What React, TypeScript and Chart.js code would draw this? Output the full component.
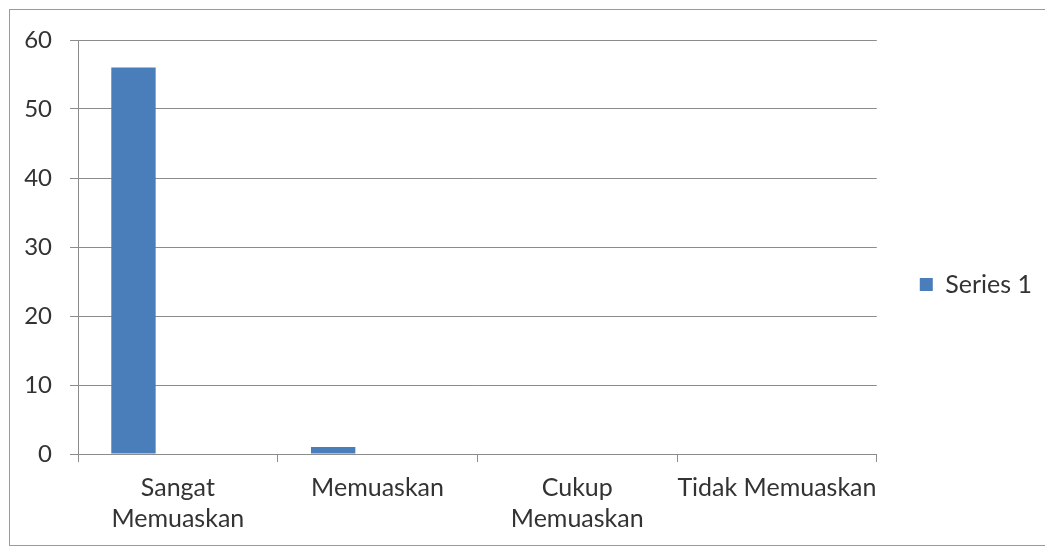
import React, { useEffect, useRef } from "react";
import { Chart, registerables } from "chart.js";

Chart.register(...registerables);

// Survey responses per satisfaction level
const categories: (string | string[])[] = [
  ["Sangat", "Memuaskan"],
  "Memuaskan",
  ["Cukup", "Memuaskan"],
  "Tidak Memuaskan",
];
const series1: number[] = [56, 1, 0, 0];
// Empty companion series keep the default three-bar cluster layout
const series2: (number | null)[] = [null, null, null, null];
const series3: (number | null)[] = [null, null, null, null];
const yTicks: number[] = [0, 10, 20, 30, 40, 50, 60];

const FONT = "Lato";
const TEXT = "#333333";
const GRID = "#8c8c8c";
const BAR = "#4A7EBB";

export default function App() {
  const ref = useRef<HTMLCanvasElement | null>(null);

  useEffect(() => {
    if (!ref.current) return;
    const chart = new Chart(ref.current, {
      type: "bar",
      data: {
        labels: categories,
        datasets: [
          { label: "Series 1", data: series1, backgroundColor: BAR },
          { label: "Series 2", data: series2, backgroundColor: "#C0504D" },
          { label: "Series 3", data: series3, backgroundColor: "#9BBB59" },
        ],
      },
      options: {
        responsive: false,
        animation: false,
        devicePixelRatio: 1,
        layout: { padding: { top: 40, left: 0, right: 3, bottom: 20 } },
        datasets: {
          bar: { categoryPercentage: 3 / 4.5, barPercentage: 1 },
        },
        plugins: {
          tooltip: { enabled: false },
          legend: {
            position: "right",
            align: "center",
            labels: {
              filter: (item) => item.datasetIndex === 0,
              boxWidth: 13,
              boxHeight: 13,
              padding: 43,
              color: TEXT,
              font: { family: FONT, size: 25 },
            },
          },
        },
        scales: {
          x: {
            offset: true,
            afterFit: (scale: any) => {
              scale.height = 75;
            },
            grid: {
              offset: true,
              drawOnChartArea: false,
              drawTicks: true,
              tickLength: 8,
              color: GRID,
            },
            border: { display: true, color: GRID, width: 1 },
            ticks: {
              color: TEXT,
              autoSkip: false,
              maxRotation: 0,
              minRotation: 0,
              padding: 10,
              font: { family: FONT, size: 25, lineHeight: 1.25 },
            },
          },
          y: {
            min: 0,
            max: 60,
            afterFit: (scale: any) => {
              scale.width = 78;
            },
            afterBuildTicks: (scale: any) => {
              scale.ticks = yTicks.map((v) => ({ value: v }));
            },
            grid: {
              color: GRID,
              drawTicks: true,
              tickLength: 8,
              lineWidth: 1,
            },
            border: { display: true, color: GRID, width: 1 },
            ticks: {
              color: TEXT,
              padding: 18,
              font: { family: FONT, size: 24 },
            },
          },
        },
      },
    });
    return () => chart.destroy();
  }, []);

  return (
    <div
      style={{
        position: "fixed",
        left: 0,
        top: 0,
        width: 1045,
        height: 549,
        overflow: "hidden",
        background: "#ffffff",
      }}
    >
      <div
        style={{
          position: "absolute",
          left: 9,
          top: 9,
          width: 1100,
          height: 535,
          border: "1.5px solid #9a9a9a",
        }}
      />
      <canvas
        ref={ref}
        width={1045}
        height={549}
        style={{ position: "absolute", left: 0, top: 0 }}
      />
    </div>
  );
}
